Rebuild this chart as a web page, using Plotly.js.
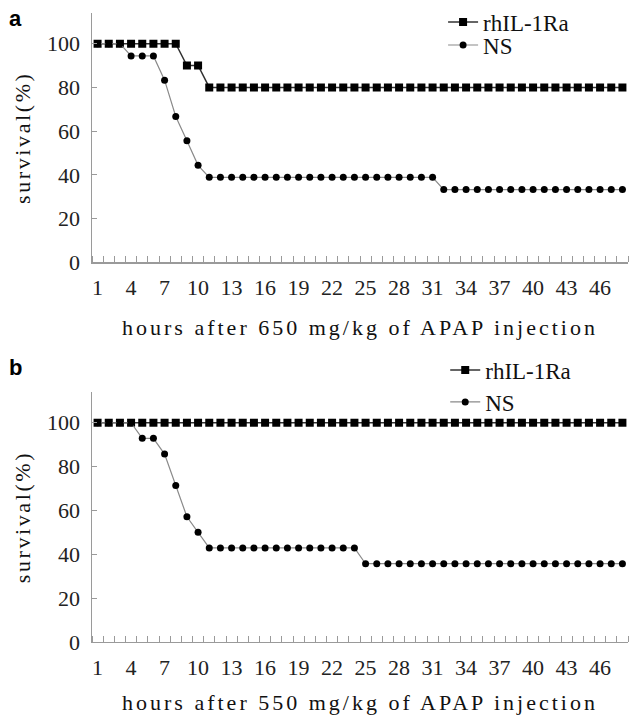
<!DOCTYPE html>
<html>
<head>
<meta charset="utf-8">
<script src="https://cdn.plot.ly/plotly-3.0.1.min.js"></script>
<style>
  html, body { margin: 0; padding: 0; background: #fff; }
  #chart { width: 633px; height: 715px; }
  #chart .xtitle, #chart .x2title { letter-spacing: 3px; }
  #chart .ytitle, #chart .y2title { letter-spacing: 2.6px; }
</style>
</head>
<body>
<div id="chart"></div>
<script>
// hours after injection (categories)
const hours = [1,2,3,4,5,6,7,8,9,10,11,12,13,14,15,16,17,18,19,20,21,22,23,24,
               25,26,27,28,29,30,31,32,33,34,35,36,37,38,39,40,41,42,43,44,45,46,47,48];
const tickHours = [1,4,7,10,13,16,19,22,25,28,31,34,37,40,43,46];
const yTicks = [0,20,40,60,80,100];

// Panel a: 650 mg/kg
const a_rhIL = [100,100,100,100,100,100,100,100,90,90,
                80,80,80,80,80,80,80,80,80,80,80,80,80,80,80,80,80,80,80,80,
                80,80,80,80,80,80,80,80,80,80,80,80,80,80,80,80,80,80];
const a_NS   = [100,100,100,94.4,94.4,94.4,83.3,66.7,55.6,44.4,
                38.9,38.9,38.9,38.9,38.9,38.9,38.9,38.9,38.9,38.9,38.9,38.9,38.9,38.9,38.9,38.9,38.9,38.9,38.9,38.9,38.9,
                33.3,33.3,33.3,33.3,33.3,33.3,33.3,33.3,33.3,33.3,33.3,33.3,33.3,33.3,33.3,33.3,33.3];

// Panel b: 550 mg/kg
const b_rhIL = [100,100,100,100,100,100,100,100,100,100,100,100,100,100,100,100,100,100,100,100,100,100,100,100,
                100,100,100,100,100,100,100,100,100,100,100,100,100,100,100,100,100,100,100,100,100,100,100,100];
const b_NS   = [100,100,100,100,92.9,92.9,85.7,71.4,57.1,50,
                42.9,42.9,42.9,42.9,42.9,42.9,42.9,42.9,42.9,42.9,42.9,42.9,42.9,42.9,
                35.7,35.7,35.7,35.7,35.7,35.7,35.7,35.7,35.7,35.7,35.7,35.7,35.7,35.7,35.7,35.7,35.7,35.7,35.7,35.7,35.7,35.7,35.7,35.7];

const seriesNames = ['rhIL-1Ra', 'NS'];
const xTitles = ['hours after 650 mg/kg of APAP injection', 'hours after 550 mg/kg of APAP injection'];
const yTitle = 'survival(%)';
const panelLabels = ['a', 'b'];

const serifFont = 'Liberation Serif, DejaVu Serif, serif';
const axisColor = '#9a9a9a';

function rhTrace(y, xa, ya, lg) {
  return {
    x: hours, y: y, xaxis: xa, yaxis: ya, name: seriesNames[0], legend: lg,
    type: 'scatter', mode: 'lines+markers',
    line: { color: '#333', width: 1.5 },
    marker: { symbol: 'square', size: 8, color: '#000' }
  };
}
function nsTrace(y, xa, ya, lg) {
  return {
    x: hours, y: y, xaxis: xa, yaxis: ya, name: seriesNames[1], legend: lg,
    type: 'scatter', mode: 'lines+markers',
    line: { color: '#8a8a8a', width: 1.2 },
    marker: { symbol: 'circle', size: 7, color: '#000' }
  };
}

const data = [
  rhTrace(a_rhIL, 'x', 'y', 'legend'),
  nsTrace(a_NS, 'x', 'y', 'legend2'),
  rhTrace(b_rhIL, 'x2', 'y2', 'legend3'),
  nsTrace(b_NS, 'x2', 'y2', 'legend4')
];

function xAxis(anchor, title) {
  return {
    anchor: anchor, range: [0.5, 48.5], fixedrange: true,
    showline: true, linecolor: axisColor, linewidth: 1.5,
    showgrid: false, zeroline: false,
    tickmode: 'array', tickvals: tickHours, ticks: '',
    ticklabelstandoff: 5,
    tickfont: { family: serifFont, size: 22, color: '#222' },
    minor: { ticks: 'inside', tickmode: 'linear', tick0: 0.5, dtick: 1, ticklen: 6, tickcolor: axisColor, tickwidth: 1, showgrid: false },
    title: { text: title, font: { family: serifFont, size: 22, color: '#111' }, standoff: 20 }
  };
}
function yAxis(anchor, domain) {
  return {
    anchor: anchor, domain: domain, range: [0, 114], fixedrange: true,
    showline: true, linecolor: axisColor, linewidth: 1.5,
    showgrid: false, zeroline: false,
    tickmode: 'array', tickvals: yTicks, ticks: 'inside', ticklen: 5, tickcolor: axisColor,
    ticklabelstandoff: 6,
    tickfont: { family: serifFont, size: 22, color: '#222' },
    title: { text: yTitle, font: { family: serifFont, size: 22, color: '#111' }, standoff: 10 }
  };
}
function legendAt(x, y) {
  return {
    x: x, y: y, xanchor: 'left', yanchor: 'middle', xref: 'paper', yref: 'paper',
    bgcolor: 'rgba(0,0,0,0)', borderwidth: 0,
    font: { family: serifFont, size: 23, color: '#111' }
  };
}

const layout = {
  width: 633, height: 715,
  margin: { l: 92, r: 5, t: 0, b: 0 },
  paper_bgcolor: '#fff', plot_bgcolor: '#fff',
  showlegend: true,
  xaxis: xAxis('y', xTitles[0]),
  yaxis: yAxis('x', [0.6329, 0.9818]),
  xaxis2: xAxis('y2', xTitles[1]),
  yaxis2: yAxis('x2', [0.1021, 0.4517]),
  legend: legendAt(0.655, 0.969),
  legend2: legendAt(0.655, 0.937),
  legend3: legendAt(0.659, 0.4825),
  legend4: legendAt(0.659, 0.4378),
  annotations: [
    { text: '<b>' + panelLabels[0] + '</b>', xref: 'paper', yref: 'paper', x: -0.142, y: 0.974,
      xanchor: 'center', yanchor: 'middle', showarrow: false,
      font: { family: 'Liberation Sans, Arial, sans-serif', size: 22, color: '#000' } },
    { text: '<b>' + panelLabels[1] + '</b>', xref: 'paper', yref: 'paper', x: -0.142, y: 0.486,
      xanchor: 'center', yanchor: 'middle', showarrow: false,
      font: { family: 'Liberation Sans, Arial, sans-serif', size: 22, color: '#000' } }
  ]
};

Plotly.newPlot('chart', data, layout, { staticPlot: true, displayModeBar: false });
</script>
</body>
</html>
